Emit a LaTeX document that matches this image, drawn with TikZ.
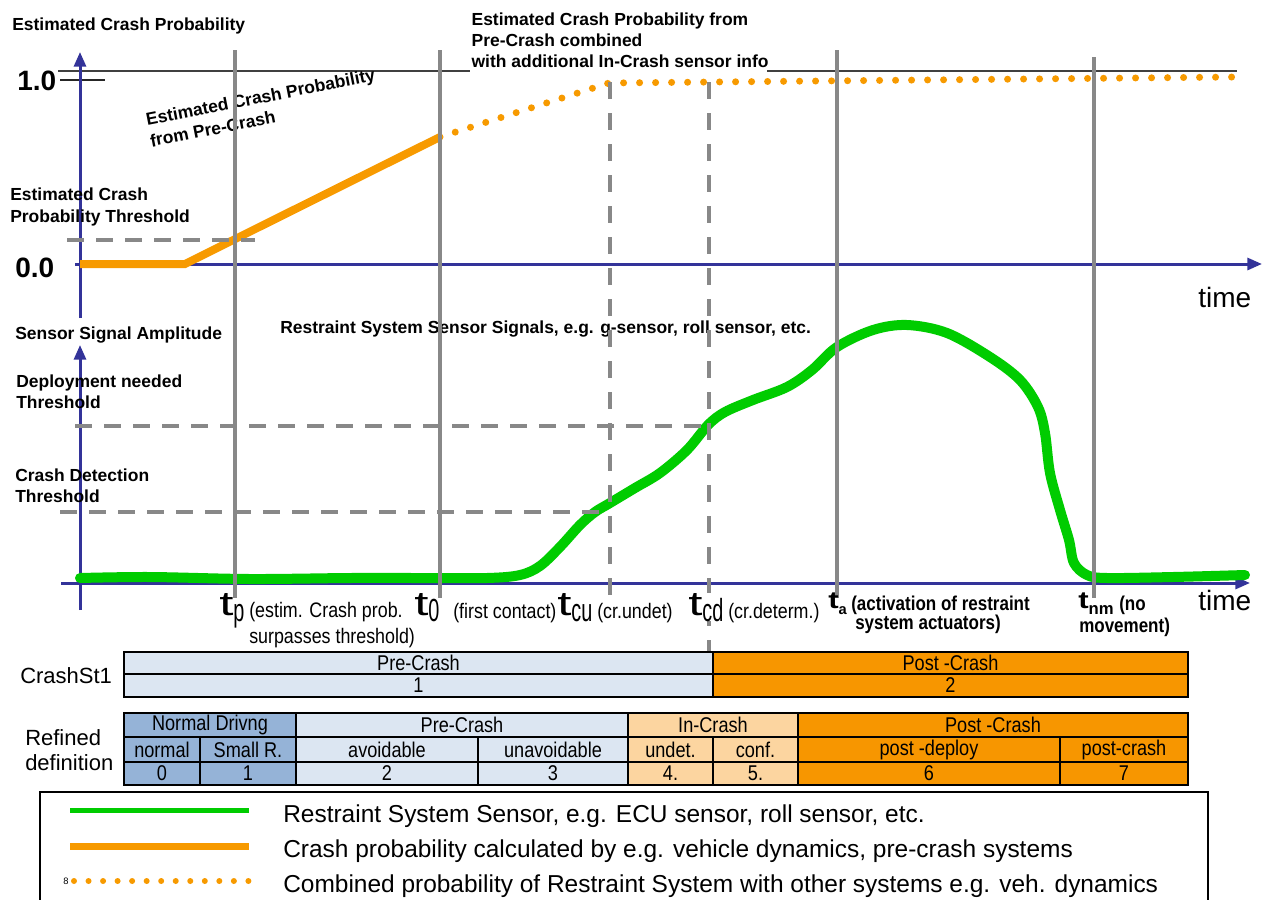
\documentclass[tikz,border=0pt]{standalone}
\usepackage{fontspec}
\setmainfont{Liberation Sans}
\newfontfamily\nf[FakeStretch=0.85]{Liberation Sans}
\newfontfamily\tnf[FakeStretch=0.62]{Liberation Sans}
\newfontfamily\wf[FakeStretch=1.5]{Liberation Sans}
\newfontfamily\wbf[FakeStretch=1.3]{Liberation Sans}
\usetikzlibrary{arrows.meta}
\definecolor{axisblue}{HTML}{333399}
\definecolor{vgray}{HTML}{888888}
\definecolor{corange}{HTML}{F79A00}
\definecolor{cgreen}{HTML}{00CC00}
\definecolor{lblue}{HTML}{DCE6F2}
\definecolor{mblue}{HTML}{95B3D7}
\definecolor{lorange}{HTML}{FCD5A0}
\definecolor{porange}{HTML}{F79600}
\newcommand{\tcell}[7]{%
  \filldraw[fill=#6,draw=black,line width=1.4pt] (#2,#3) rectangle (#4,#5);
  \node[cellt] (#1) at ({(#2+#4)/2},{(#3+#5)/2}) {#7};}
\newcommand{\tbig}[1]{{\wf\fontsize{25.5}{25.5}\selectfont t}\raisebox{-4.5pt}{\tnf\fontsize{24}{24}\selectfont #1}}
\newcommand{\tbold}[2]{{\wbf\bfseries\fontsize{18}{18}\selectfont t}\raisebox{-4.5pt}{\bfseries\fontsize{#2}{#2}\selectfont #1}}
\begin{document}
\begin{tikzpicture}[x=0.75pt,y=-0.75pt,
  axis/.style={draw=axisblue,line width=2.25pt,-{Triangle[length=11pt,width=9pt]}},
  gline/.style={draw=vgray,line width=2.6pt},
  gdash/.style={gline,dash pattern=on 12.75pt off 10.5pt},
  hdash/.style={gline,dash pattern=on 12.75pt off 9pt},
  pline/.style={draw=corange,line width=6pt},
  pdots/.style={draw=corange,line width=5.25pt,line cap=round,dash pattern=on 0pt off 12pt},
  sline/.style={draw=cgreen,line width=7.5pt,line cap=round,line join=round},
  blab/.style={anchor=base west,inner sep=0pt,font=\bfseries\fontsize{13.1}{15}\selectfont},
  big/.style={anchor=base west,inner sep=0pt,font=\bfseries\fontsize{21}{21}\selectfont},
  timel/.style={anchor=base west,inner sep=0pt,font=\fontsize{21}{21}\selectfont},
  tl/.style={anchor=base west,inner sep=0pt},
  small/.style={anchor=base west,inner sep=0pt,font=\nf\fontsize{15.75}{15.75}\selectfont},
  smallb/.style={anchor=base west,inner sep=0pt,font=\nf\bfseries\fontsize{15}{15}\selectfont},
  cellt/.style={inner sep=0pt,font=\nf\fontsize{16}{16}\selectfont},
  leftl/.style={anchor=base west,inner sep=0pt,font=\fontsize{16.5}{16.5}\selectfont},
  legt/.style={anchor=base west,inner sep=0pt,font=\fontsize{18.35}{18.35}\selectfont}
]
\useasboundingbox (0,0) rectangle (1268,900);

% ---------- top chart ----------
\draw[line width=1.1pt,black!75] (58,71) -- (470,71);
\draw[line width=1.1pt,black!75] (767,71) -- (1237,71);
\draw[line width=1.1pt,black!85] (60,80) -- (105,80);
\draw[axis] (80,318) -- (80,52);
\draw[axis] (75,264) -- (1262,264);

% lower chart axes
\draw[axis] (80,610) -- (80,345);
\draw[axis] (61,583) -- (1250,583);

% curves
\draw[pline] (80,264) -- (185,264) -- (440,137);
\draw[pdots] (440,137) -- (609,83) -- (1237,77);
\draw[sline] plot[smooth,tension=0.55] coordinates {(80,578) (150,577) (250,579) (350,578) (420,578) (487,578) (520,575) (540,566) (560,547) (580,525) (595,512) (610,503) (635,488) (660,473) (687,450) (708,425) (725,412) (753,400) (787,387) (812,370) (837,347) (873,330) (907,325) (947,333) (990,357) (1020,380) (1038,407) (1045,433) (1050,473) (1060,510) (1069,540) (1074,563) (1087,575) (1107,578) (1173,577) (1245,575)};

% top labels
\node[blab] (ecp) at (12,30) {Estimated Crash Probability};
\node[blab,fill=white,inner sep=1pt] (comb1) at (470,25) {Estimated Crash Probability from};
\node[blab,fill=white,inner sep=1pt] (comb2) at (470,46) {Pre-Crash combined};
\node[blab,fill=white,inner sep=1pt] (comb3) at (470,67) {with additional In-Crash sensor info};
\node[anchor=north west,inner sep=0pt,rotate=11,align=left,
      font=\bfseries\fontsize{13.1}{16.5}\selectfont] (pre) at (144.6,112.8)
      {Estimated Crash Probability\\from Pre-Crash};
\node[blab] (thr1) at (10,200) {Estimated Crash};
\node[blab] (thr2) at (10,222) {Probability Threshold};
\node[big] (one) at (17,90) {1.0};
\node[big] (zero) at (15,277) {0.0};
\node[timel] (time1) at (1198,307) {time};

% lower labels
\node[blab] (ssa) at (15,339) {Sensor Signal Amplitude};
\node[blab] (rss) at (280,333) {Restraint System Sensor Signals, e.g. g-sensor, roll sensor, etc.};
\node[blab] (dep1) at (16,387) {Deployment needed};
\node[blab] (dep2) at (16,408) {Threshold};
\node[blab] (cd1) at (15,481) {Crash Detection};
\node[blab] (cd2) at (15,502) {Threshold};
\node[timel] (time2) at (1198,610) {time};

% vertical lines
\draw[gline] (235,50) -- (235,598);
\draw[gline] (440,50) -- (440,598);
\draw[gline] (837,50) -- (837,598);
\draw[gline] (1094,57) -- (1094,598);
\draw[gdash] (610,82) -- (610,600);
\draw[gdash] (709,82) -- (709,652);

% threshold dashed lines
\draw[hdash] (67,240) -- (255,240);
\draw[hdash] (75,426) -- (709,426);
\draw[hdash] (60,512) -- (610,512);

% time labels
\node[tl] (tp) at (219,615) {\tbig{p}};
\node[small] (tpd1) at (249,617) {(estim. Crash prob.};
\node[small] (tpd2) at (249,643) {surpasses threshold)};
\node[tl] (t0) at (414,615) {\tbig{0}};
\node[small] (t0d) at (453,618) {(first contact)};
\node[tl] (tcu) at (557,615) {\tbig{cu}};
\node[small] (tcud) at (597,618) {(cr.undet)};
\node[tl,fill=white,inner sep=0pt] (tcd) at (688,615) {\tbig{cd}};
\node[small] (tcdd) at (728,618) {(cr.determ.)};
\node[tl] (ta) at (828,608) {\tbold{a}{11}};
\node[smallb] (tad1) at (851,610) {(activation of restraint};
\node[smallb] (tad2) at (855,629) {system actuators)};
\node[tl] (tnm) at (1078,608) {\tbold{nm}{12.5}};
\node[smallb] (tnmd1) at (1119,610) {(no};
\node[smallb] (tnmd2) at (1079,632) {movement)};

% ---------- tables ----------
\node[leftl] (cs) at (20,683) {CrashSt1};
\node[leftl] (rf1) at (25,745) {Refined};
\node[leftl] (rf2) at (25,770) {definition};

\tcell{c1a}{124}{652}{713}{674}{lblue}{Pre-Crash}
\tcell{c1b}{124}{674}{713}{697}{lblue}{1}
\tcell{c2a}{713}{652}{1188}{674}{porange}{Post -Crash}
\tcell{c2b}{713}{674}{1188}{697}{porange}{2}

\tcell{r1a}{124}{713}{296}{737}{mblue}{Normal Drivng}
\tcell{r1b}{296}{713}{628}{737}{lblue}{Pre-Crash}
\tcell{r1c}{628}{713}{798}{737}{lorange}{In-Crash}
\tcell{r1d}{798}{713}{1188}{737}{porange}{Post -Crash}

\tcell{r2a}{124}{737}{200}{762}{mblue}{normal}
\tcell{r2b}{200}{737}{296}{762}{mblue}{Small R.}
\tcell{r2c}{296}{737}{478}{762}{lblue}{avoidable}
\tcell{r2d}{478}{737}{628}{762}{lblue}{unavoidable}
\tcell{r2e}{628}{737}{713}{762}{lorange}{undet.}
\tcell{r2f}{713}{737}{798}{762}{lorange}{conf.}
\tcell{r2g}{798}{737}{1060}{762}{porange}{post -deploy}
\tcell{r2h}{1060}{737}{1188}{762}{porange}{post-crash}

\tcell{r3a}{124}{762}{200}{785}{mblue}{0}
\tcell{r3b}{200}{762}{296}{785}{mblue}{1}
\tcell{r3c}{296}{762}{478}{785}{lblue}{2}
\tcell{r3d}{478}{762}{628}{785}{lblue}{3}
\tcell{r3e}{628}{762}{713}{785}{lorange}{4.}
\tcell{r3f}{713}{762}{798}{785}{lorange}{5.}
\tcell{r3g}{798}{762}{1060}{785}{porange}{6}
\tcell{r3h}{1060}{762}{1188}{785}{porange}{7}

% ---------- legend ----------
\draw[line width=1.5pt] (40,901) -- (40,792) -- (1208,792) -- (1208,901);
\draw[draw=cgreen,line width=3.75pt] (70,810) -- (249,810);
\draw[draw=corange,line width=5.25pt] (70,846) -- (249,846);
\draw[draw=corange,line width=4.5pt,line cap=round,dash pattern=on 0pt off 10.9pt] (74,881) -- (249,881);
\node[legt] (lg1) at (283,822) {Restraint System Sensor, e.g. ECU sensor, roll sensor, etc.};
\node[legt] (lg2) at (283,857) {Crash probability calculated by e.g. vehicle dynamics, pre-crash systems};
\node[legt] (lg3) at (283,892) {Combined probability of Restraint System with other systems e.g. veh. dynamics};
\node[anchor=base west,inner sep=0pt,font=\fontsize{7}{7}\selectfont] (pg) at (63,884) {8};
\end{tikzpicture}
\end{document}
